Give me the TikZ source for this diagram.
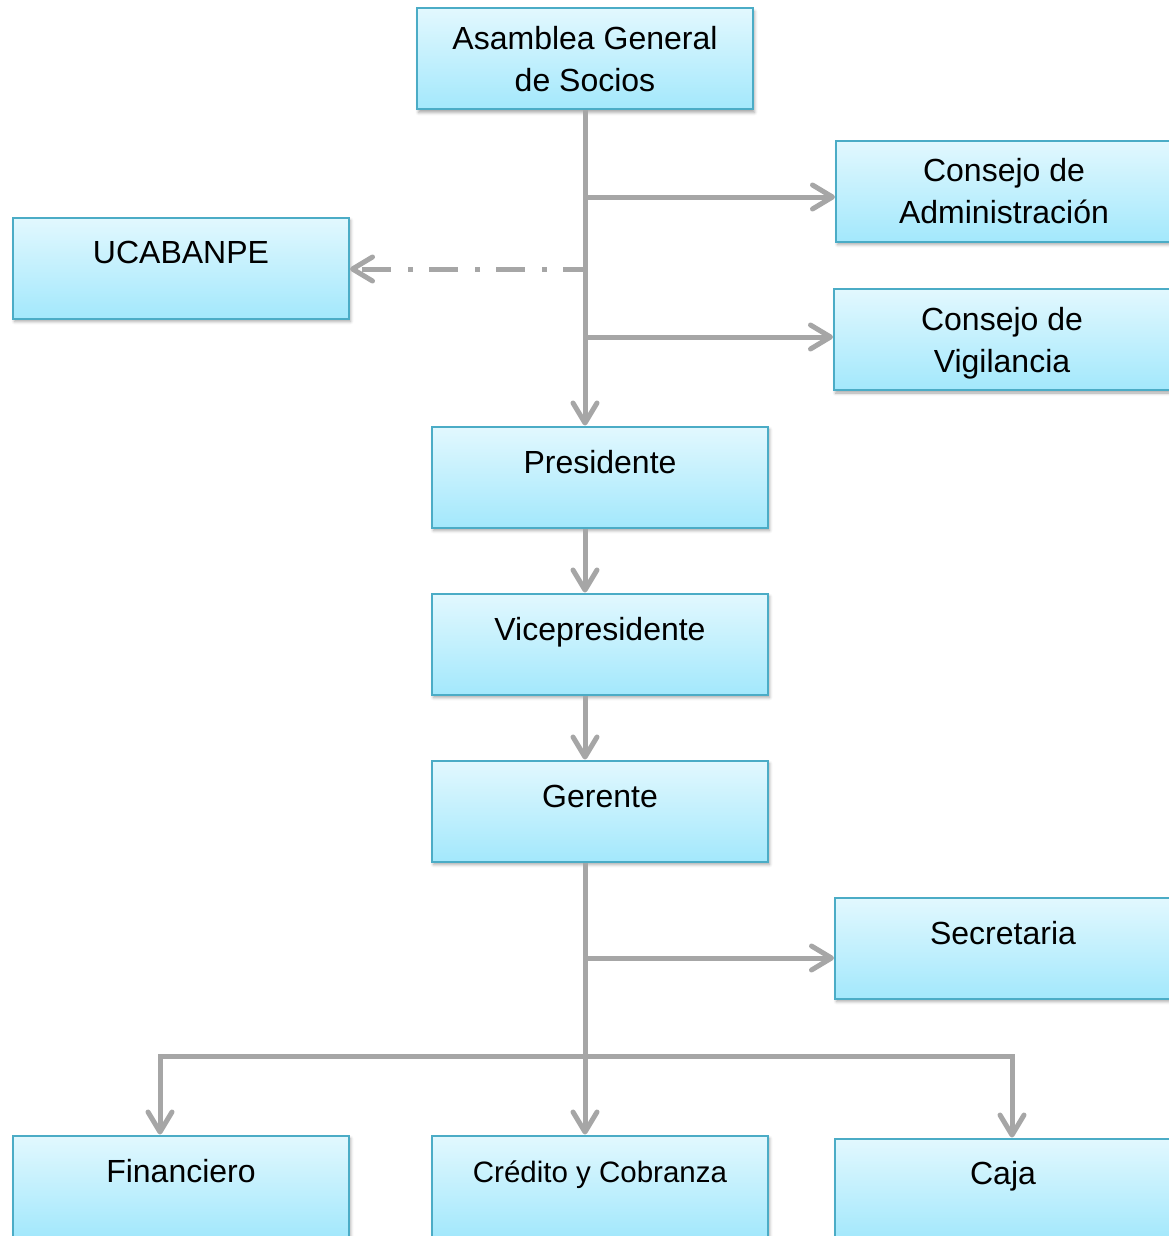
\documentclass[tikz,border=0pt]{standalone}
\usepackage{fontspec}
\setmainfont{Liberation Sans}
\usetikzlibrary{arrows.meta,calc,shadows.blur}
\definecolor{boxline}{HTML}{4BACC6}
\definecolor{boxtop}{HTML}{E2F8FE}
\definecolor{boxbot}{HTML}{A3E8FC}
\definecolor{wiregray}{HTML}{A6A6A6}

\begin{document}
\begin{tikzpicture}[x=1pt,y=-1pt,
  unit/.style={draw=boxline, line width=2pt, top color=boxtop, bottom color=boxbot,
    minimum width=336pt, minimum height=101pt, inner sep=0pt,
    blur shadow={shadow xshift=1.5pt, shadow yshift=-3pt, shadow blur radius=3pt, shadow opacity=35}},
  caption/.style={anchor=base, align=center, inner sep=0pt, font=\fontsize{32}{42}\selectfont},
  wire/.style={draw=wiregray, line width=5pt},
  flow/.style={wire, -{Straight Barb[length=20pt,width=24pt,round]}},
]
\useasboundingbox (0,0) rectangle (1168,1236);

% organisation units
\node[unit] (asam) at (585,59) {};
\node[unit] (cadm) at (1004,191) {};
\node[unit] (ucab) at (181,268) {};
\node[unit] (cvig) at (1002,339.5) {};
\node[unit] (pres) at (600,477) {};
\node[unit] (vice) at (600,644) {};
\node[unit] (ger)  at (600,811) {};
\node[unit] (sec)  at (1003,948) {};
\node[unit] (fin)  at (181,1186) {};
\node[unit] (cred) at (600,1186) {};
\node[unit] (caja) at (1003,1189) {};

% captions (the base anchor of a two-line caption sits on its second line)
\node[caption] (asam-t) at ($(asam.north)+(0,84)$) {Asamblea General\\de Socios};
\node[caption] (cadm-t) at ($(cadm.north)+(0,84)$) {Consejo de\\Administración};
\node[caption] (ucab-t) at ($(ucab.north)+(0,47)$) {UCABANPE};
\node[caption] (cvig-t) at ($(cvig.north)+(0,84)$) {Consejo de\\Vigilancia};
\node[caption] (pres-t) at ($(pres.north)+(0,48)$) {Presidente};
\node[caption] (vice-t) at ($(vice.north)+(0,48)$) {Vicepresidente};
\node[caption] (ger-t)  at ($(ger.north)+(0,48)$) {Gerente};
\node[caption] (sec-t)  at ($(sec.north)+(0,48)$) {Secretaria};
\node[caption] (fin-t)  at ($(fin.north)+(0,48)$) {Financiero};
\node[caption, font=\fontsize{29.5}{36}\selectfont] (cred-t) at ($(cred.north)+(0,48)$) {Crédito y Cobranza};
\node[caption] (caja-t) at ($(caja.north)+(0,47)$) {Caja};

% junction points on the trunks
\coordinate (j1) at (585,197);
\coordinate (j2) at (585,269);
\coordinate (j3) at (585,337);
\coordinate (j4) at (585,958);
\coordinate (bus) at (585,1056);
\coordinate (finx) at (160,1056);
\coordinate (cajx) at (1012,1056);

% connectors
\draw[flow] (asam.south) -- (asam.south |- pres.north);
\draw[flow] (j1) -- (j1 -| cadm.west);
\draw[flow, dash pattern=on 29pt off 16pt on 5pt off 17pt, dash phase=7pt] (j2) -- (j2 -| ucab.east);
\draw[flow] (j3) -- (j3 -| cvig.west);
\draw[flow] (pres.south -| asam.south) -- (vice.north -| asam.south);
\draw[flow] (vice.south -| asam.south) -- (ger.north -| asam.south);
\draw[flow] (ger.south -| asam.south) -- (cred.north -| asam.south);
\draw[flow] (j4) -- (j4 -| sec.west);
\draw[flow] (bus) -- (finx) -- (finx |- fin.north);
\draw[flow] (bus) -- (cajx) -- (cajx |- caja.north);
\end{tikzpicture}
\end{document}
